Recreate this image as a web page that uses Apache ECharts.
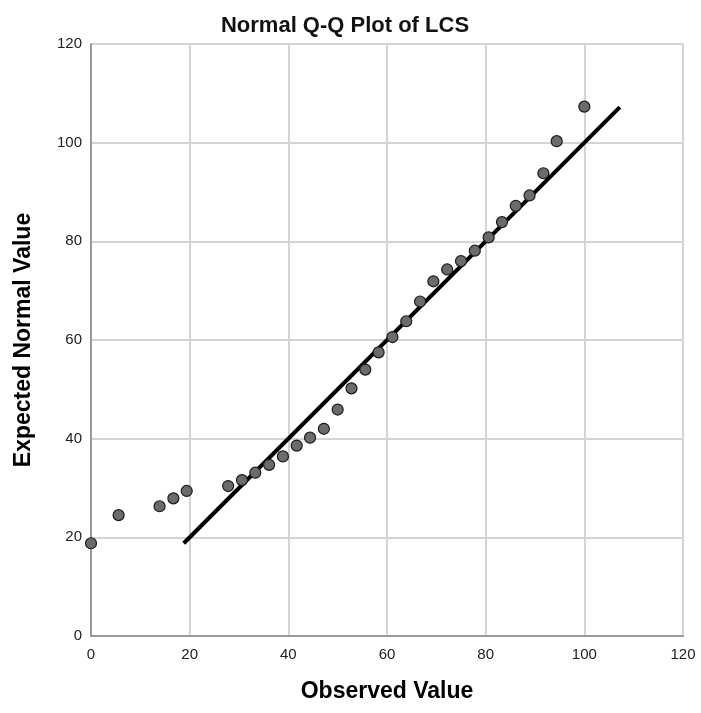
<!DOCTYPE html>
<html>
<head>
<meta charset="utf-8">
<title>Normal Q-Q Plot of LCS</title>
<script src="https://cdn.jsdelivr.net/npm/echarts@6/dist/echarts.min.js"></script>
<style>
    html, body { margin: 0; padding: 0; background: #fff; }
    #qq { width: 701px; height: 713px; }
</style>
</head>
<body>
<div id="qq"></div>
<script>
'use strict'
var observed = [0, 5.6, 13.9, 16.7, 19.4, 27.8, 30.6, 33.3, 36.1, 38.9, 41.7, 44.4, 47.2,
    50.0, 52.8, 55.6, 58.3, 61.1, 63.9, 66.7, 69.4, 72.2, 75.0, 77.8, 80.6, 83.3, 86.1,
    88.9, 91.7, 94.4, 100.0];
var expected = [18.8, 24.5, 26.3, 27.9, 29.4, 30.4, 31.6, 33.1, 34.7, 36.4, 38.6, 40.2, 42.0,
    45.9, 50.2, 54.0, 57.5, 60.6, 63.8, 67.8, 71.9, 74.3, 76.0, 78.1, 80.8, 83.9, 87.2,
    89.3, 93.8, 100.3, 107.3];
// reference line y = x
var refLine = [[18.8, 18.8], [107.2, 107.2]];
var xTicks = [0, 20, 40, 60, 80, 100, 120];
var yTicks = [0, 20, 40, 60, 80, 100, 120];

var points = observed.map(function (v, i) { return [v, expected[i]]; });

var chart = echarts.init(document.getElementById('qq'));
var axisCommon = {
    type: 'value',
    min: 0,
    max: 120,
    interval: 20,
    nameLocation: 'middle',
    nameTextStyle: { fontFamily: 'Liberation Sans', fontSize: 23, fontWeight: 'bold', color: '#000' },
    axisLine: { show: true, lineStyle: { color: '#9a9a9a', width: 2 } },
    axisTick: { show: false },
    splitLine: { show: true, lineStyle: { color: '#d4d4d4', width: 2 } }
};
var option = {
    backgroundColor: '#fff',
    animation: false,
    title: {
        text: 'Normal Q-Q Plot of LCS',
        left: 340,
        textAlign: 'center',
        top: 10,
        textStyle: { fontFamily: 'Liberation Sans', fontSize: 22, fontWeight: 'bold', color: '#111' }
    },
    grid: { left: 91, right: 18, top: 44, bottom: 77, containLabel: false },
    xAxis: Object.assign({}, axisCommon, {
        name: 'Observed Value',
        nameGap: 44,
        axisLabel: {
            fontFamily: 'Liberation Sans', fontSize: 15, color: '#222', margin: 11,
            formatter: function (v) { return xTicks.indexOf(v) >= 0 ? String(v) : ''; }
        }
    }),
    yAxis: Object.assign({}, axisCommon, {
        name: 'Expected Normal Value',
        nameGap: 56,
        axisLabel: {
            fontFamily: 'Liberation Sans', fontSize: 15, color: '#222', margin: 9,
            formatter: function (v) { return yTicks.indexOf(v) >= 0 ? String(v) : ''; }
        }
    }),
    series: [{
        type: 'line',
        data: refLine,
        showSymbol: false,
        symbol: 'none',
        z: 2,
        lineStyle: { color: '#000', width: 4 }
    }, {
        type: 'scatter',
        data: points,
        symbolSize: 11,
        z: 3,
        itemStyle: { color: '#6b6b6b', borderColor: '#1a1a1a', borderWidth: 1.2, opacity: 1 }
    }]
};
chart.setOption(option);
</script>
</body>
</html>
